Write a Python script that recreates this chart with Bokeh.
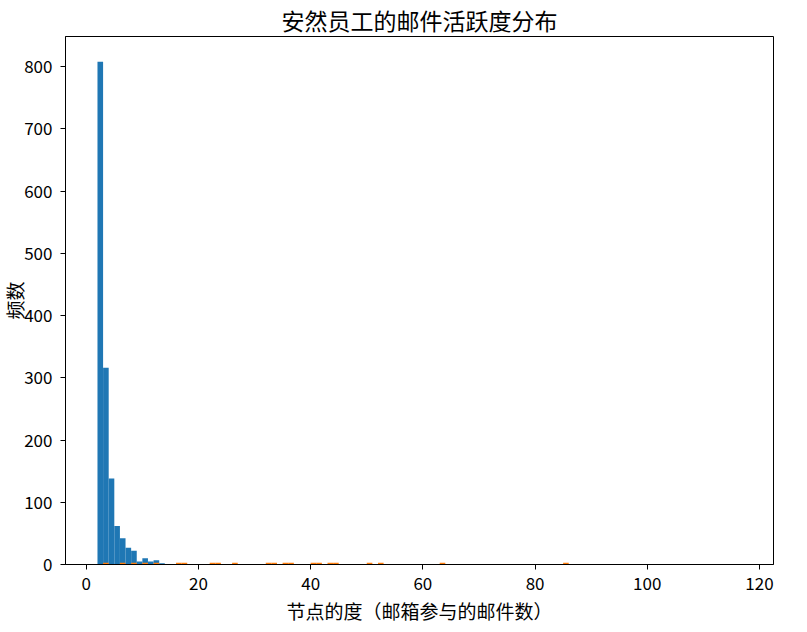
from bokeh.plotting import figure
from bokeh.models import Range1d, FixedTicker, ColumnDataSource
from bokeh.embed import file_html
from bokeh.resources import INLINE

# ---- data ----
title_text = "安然员工的邮件活跃度分布"
x_label = "节点的度（邮箱参与的邮件数）"
y_label = "频数"
x_ticks = [0, 20, 40, 60, 80, 100, 120]
y_ticks = [0, 100, 200, 300, 400, 500, 600, 700, 800]

bin_width = 1
blue_bin_left = [2, 3, 4, 5, 6, 7, 8, 9, 10, 11, 12, 13]
blue_counts = [808, 316, 138, 62, 42, 27, 22, 5, 10, 5, 7, 2]

orange_bin_left = [3, 6, 8, 10, 12, 14, 15, 16, 17, 18, 19, 20, 21, 22, 23, 24, 25,
                   26, 27, 28, 29, 30, 31, 32, 33, 34, 35, 36, 37, 38, 39, 40, 41,
                   42, 43, 44, 45, 46, 47, 48, 49, 50, 52, 54, 56, 58, 60, 62, 63,
                   65, 68, 71, 74, 77, 80, 83, 85, 88, 95, 101, 110, 116]
orange_counts = [3, 3, 3, 3, 3, 1, 1, 3, 3, 1, 1, 1, 1, 3, 3, 1, 1,
                 3, 1, 1, 1, 1, 1, 3, 3, 1, 3, 3, 1, 1, 1, 3, 3,
                 1, 3, 3, 1, 1, 1, 1, 1, 3, 3, 1, 1, 1, 1, 1, 3,
                 1, 1, 1, 1, 1, 1, 1, 3, 1, 1, 1, 1, 1]

FONT = "Noto Sans CJK SC"
YLABEL_FONT = "DejaVu Sans, Noto Sans CJK SC"

blue_src = ColumnDataSource(dict(
    left=blue_bin_left,
    right=[v + bin_width for v in blue_bin_left],
    top=blue_counts,
))
orange_src = ColumnDataSource(dict(
    left=orange_bin_left,
    right=[v + bin_width for v in orange_bin_left],
    top=orange_counts,
))

p = figure(width=807, height=632, output_backend="svg", toolbar_location=None,
           x_range=Range1d(-3.7, 122.5), y_range=Range1d(0, 848.4),
           min_border_left=65, min_border_right=34, min_border_top=36,
           min_border_bottom=68)
p.background_fill_color = "white"
p.border_fill_color = "white"
p.outline_line_color = "black"
p.outline_line_width = 1
p.grid.visible = False

p.title.text = title_text
p.title.align = "center"
p.title.text_font = FONT
p.title.text_font_size = "23px"
p.title.text_font_style = "normal"
p.title.text_color = "black"
p.title.standoff = 0

p.quad(left="left", right="right", bottom=0, top="top", source=blue_src,
       fill_color="#1f77b4", line_color=None)
p.quad(left="left", right="right", bottom=0, top="top", source=orange_src,
       fill_color="#ff7f0e", line_color=None)

for ax in (p.xaxis[0], p.yaxis[0]):
    ax.axis_line_color = "black"
    ax.major_tick_line_color = "black"
    ax.major_tick_out = 5
    ax.major_tick_in = 0
    ax.minor_tick_line_color = None
    ax.major_label_text_font = FONT
    ax.major_label_text_font_size = "17px"
    ax.major_label_text_color = "black"
    ax.axis_label_text_font = FONT
    ax.axis_label_text_font_size = "19px"
    ax.axis_label_text_font_style = "normal"
    ax.axis_label_text_color = "black"
p.yaxis[0].axis_label_text_font = YLABEL_FONT
p.xaxis[0].ticker = FixedTicker(ticks=x_ticks)
p.yaxis[0].ticker = FixedTicker(ticks=y_ticks)
p.xaxis[0].major_label_standoff = 7
p.yaxis[0].major_label_standoff = 8
p.xaxis[0].axis_label = x_label
p.yaxis[0].axis_label = y_label
p.xaxis[0].axis_label_standoff = 4
p.yaxis[0].axis_label_standoff = -6

open("out.html", "w").write(file_html(p, INLINE))
